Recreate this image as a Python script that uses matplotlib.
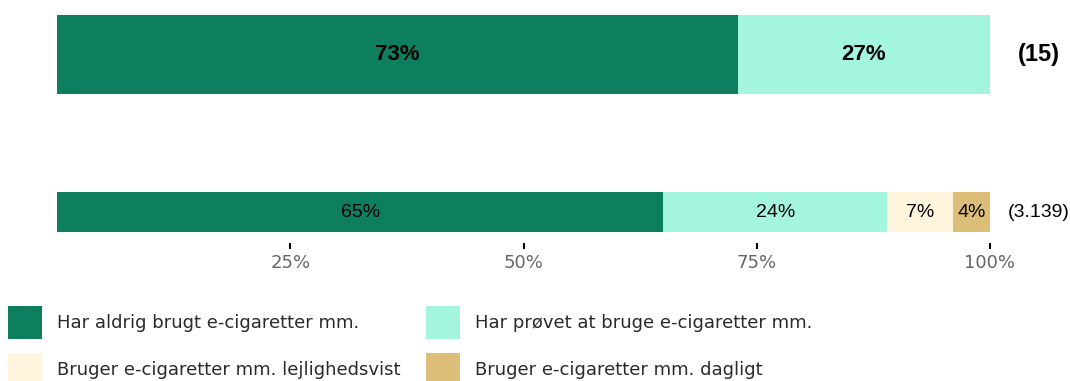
import matplotlib.pyplot as plt
from matplotlib.patches import Rectangle

# survey shares (percent) per group
categories = ["Har aldrig brugt e-cigaretter mm.",
              "Har prøvet at bruge e-cigaretter mm.",
              "Bruger e-cigaretter mm. lejlighedsvist",
              "Bruger e-cigaretter mm. dagligt"]
colors = ["#0d7e5e", "#a3f5de", "#fff5dc", "#dcbe78"]

group_a = [73, 27, 0, 0]
group_b = [65, 24, 7, 4]
counts = ["(15)", "(3.139)"]

ticks = [25, 50, 75, 100]
tick_labels = ["25%", "50%", "75%", "100%"]

W, H = 1070, 381
fig = plt.figure(figsize=(W / 100, H / 100), dpi=100)
ax = fig.add_axes([57 / W, 1 - 243 / H, (990 - 57) / W, 233 / H])

rows = [group_a, group_b]
ypos = [0.191, 0.867]
heights = [0.339, 0.172]
bold = [True, False]

for r, vals in enumerate(rows):
    left = 0
    size = 16 if bold[r] else 14
    weight = "bold" if bold[r] else "normal"
    for i, v in enumerate(vals):
        if v == 0:
            continue
        ax.barh(ypos[r], v, left=left, height=heights[r], color=colors[i],
                edgecolor="none")
        ax.text(left + v / 2, ypos[r], f"{v}%", ha="center", va="center",
                fontsize=size, fontweight=weight,
                family="Liberation Sans", color="black")
        left += v
    ax.text(105.2, ypos[r], counts[r], ha="center", va="center",
            fontsize=size + (1 if bold[r] else 0), fontweight=weight,
            family="Liberation Sans", clip_on=False)

ax.set_xlim(0, 100)
ax.set_ylim(1, 0)
ax.set_xticks(ticks)
ax.set_xticklabels(tick_labels, color="#666666", fontsize=13,
                   family="DejaVu Sans")
ax.set_yticks([])
ax.tick_params(axis="x", length=4.5, width=1.5, color="black", pad=3.5)
for s in ax.spines.values():
    s.set_visible(False)

# legend: 2 x 2 grid of colour boxes with labels
box_x = [8, 426]
box_y = [306, 353]
for i, label in enumerate(categories):
    col, row = i % 2, i // 2
    x0, y0 = box_x[col], box_y[row]
    fig.add_artist(Rectangle((x0 / W, 1 - (y0 + 33) / H), 34 / W, 33 / H,
                             transform=fig.transFigure, facecolor=colors[i],
                             edgecolor="none"))
    fig.text((x0 + 49) / W, 1 - (y0 + 17) / H, label, ha="left",
             va="center", fontsize=13, family="DejaVu Sans", color="#2a2a2a")

fig.savefig("out.png", dpi=100)
